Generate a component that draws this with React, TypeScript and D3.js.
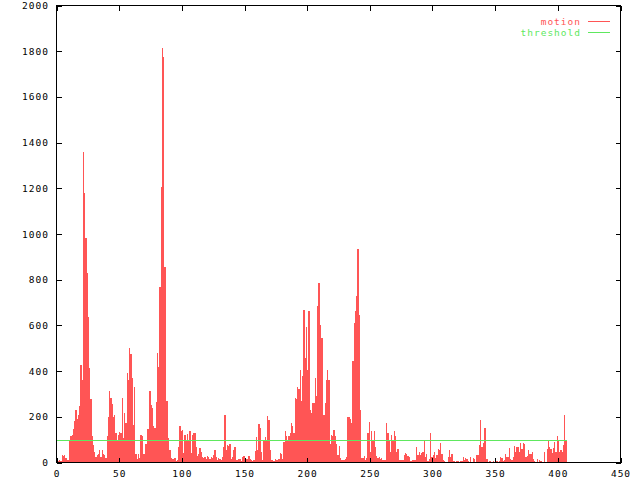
import React from 'react';
import * as d3 from 'd3';

const motion: number[] = [
  8, 5, 10, 8, 33, 30, 35, 20, 10, 12,
  92, 114, 121, 147, 182, 230, 190, 209, 248, 425,
  362, 1359, 1181, 982, 829, 635, 414, 277, 114, 77,
  48, 26, 33, 38, 55, 26, 55, 38, 33, 20,
  114, 201, 311, 284, 255, 200, 210, 128, 92, 121,
  133, 128, 284, 106, 216, 172, 391, 359, 500, 474,
  369, 165, 330, 38, 15, 38, 19, 121, 114, 38,
  38, 82, 147, 147, 311, 252, 238, 158, 153, 264,
  479, 416, 768, 1207, 1814, 1776, 857, 271, 267, 107,
  55, 19, 16, 15, 19, 7, 12, 70, 158, 140,
  143, 41, 121, 92, 125, 96, 139, 41, 121, 131,
  131, 70, 29, 38, 63, 45, 26, 18, 22, 15,
  29, 23, 16, 26, 20, 33, 55, 26, 12, 19,
  15, 12, 23, 70, 209, 53, 77, 74, 82, 15,
  23, 53, 66, 12, 12, 15, 15, 7, 23, 29,
  12, 16, 15, 29, 15, 12, 7, 9, 51, 112,
  53, 168, 150, 48, 12, 95, 111, 95, 204, 184,
  53, 9, 13, 7, 15, 12, 9, 15, 41, 38,
  15, 88, 136, 117, 99, 117, 131, 175, 158, 131,
  282, 277, 330, 321, 406, 267, 380, 668, 457, 592,
  406, 661, 230, 216, 260, 260, 369, 289, 686, 785,
  603, 544, 544, 206, 260, 362, 406, 362, 82, 121,
  117, 143, 117, 82, 34, 73, 19, 12, 12, 12,
  15, 26, 201, 201, 190, 175, 446, 610, 665, 727,
  934, 646, 228, 19, 19, 29, 9, 19, 128, 179,
  48, 136, 92, 136, 70, 29, 19, 22, 15, 19,
  12, 9, 9, 172, 131, 99, 48, 121, 99, 139,
  114, 48, 60, 12, 9, 12, 9, 34, 41, 38,
  29, 26, 7, 7, 12, 12, 12, 70, 34, 44,
  34, 41, 45, 99, 26, 38, 7, 15, 128, 26,
  34, 45, 19, 34, 60, 53, 85, 38, 12, 7,
  4, 4, 23, 53, 23, 38, 7, 5, 4, 6,
  5, 4, 6, 5, 26, 12, 19, 15, 7, 4,
  26, 4, 19, 15, 4, 34, 31, 77, 187, 70,
  85, 150, 150, 15, 4, 7, 5, 4, 6, 4,
  5, 7, 4, 5, 23, 19, 7, 12, 38, 26,
  26, 63, 15, 12, 26, 73, 48, 70, 67, 48,
  85, 58, 85, 82, 26, 29, 53, 36, 38, 48,
  15, 7, 4, 15, 4, 12, 7, 4, 4, 48,
  4, 60, 92, 70, 58, 41, 63, 88, 48, 118,
  99, 48, 55, 48, 77, 209, 96,
];

const thresholdValue = 100;
const xTickValues = [0, 50, 100, 150, 200, 250, 300, 350, 400, 450];
const yTickValues = [0, 200, 400, 600, 800, 1000, 1200, 1400, 1600, 1800, 2000];
const seriesNames = ['motion', 'threshold'];

export default function App() {
  const W = 640;
  const H = 480;
  const left = 56.5, right = 620.5, top = 5.5, bottom = 462.5;
  const x = d3.scaleLinear().domain([0, 450]).range([left, right]);
  const y = d3.scaleLinear().domain([0, 2000]).range([bottom, top]);

  const red = '#ff5555';
  const green = '#5ee85e';
  const font = "'DejaVu Sans Mono', monospace";
  const fs = 9.5;
  const ls = 1;
  const tick = 5;

  const thrLine = d3.line<[number, number]>()
    .x((d) => x(d[0]))
    .y((d) => Math.round(y(d[1])) + 0.5)([
      [0, thresholdValue],
      [motion.length, thresholdValue],
    ]);

  const colors = [red, green];

  return (
    <svg
      width={W}
      height={H}
      style={{ position: 'absolute', left: 0, top: 0, background: '#fff' }}
    >
      <rect x={0} y={0} width={W} height={H} fill="#fff" />
      <g shapeRendering="crispEdges">
        {motion.map((v, i) => (
          <rect
            key={i}
            x={x(i)}
            width={x(i + 1) - x(i)}
            y={y(v)}
            height={y(0) - y(v)}
            fill={red}
          />
        ))}
      </g>
      <path d={thrLine || ''} stroke={green} strokeWidth={1} fill="none" shapeRendering="crispEdges" />
      <g stroke="#000" strokeWidth={1} shapeRendering="crispEdges">
        {yTickValues.map((v) => (
          <g key={'yt' + v}>
            <line x1={left} x2={left + tick} y1={Math.round(y(v)) + 0.5} y2={Math.round(y(v)) + 0.5} />
            <line x1={right} x2={right - tick} y1={Math.round(y(v)) + 0.5} y2={Math.round(y(v)) + 0.5} />
          </g>
        ))}
        {xTickValues.map((v) => (
          <g key={'xt' + v}>
            <line x1={Math.round(x(v)) + 0.5} x2={Math.round(x(v)) + 0.5} y1={bottom} y2={bottom - tick} />
            <line x1={Math.round(x(v)) + 0.5} x2={Math.round(x(v)) + 0.5} y1={top} y2={top + tick} />
          </g>
        ))}
        <rect x={left} y={top} width={right - left} height={bottom - top} fill="none" />
      </g>
      <g fontFamily={font} fontSize={fs} letterSpacing={ls} fill="#000">
        {yTickValues.map((v) => (
          <text key={'yl' + v} x={48 + ls} y={y(v) + 3.5} textAnchor="end">
            {v}
          </text>
        ))}
        {xTickValues.map((v) => (
          <text key={'xl' + v} x={x(v) + ls / 2} y={477} textAnchor="middle">
            {v}
          </text>
        ))}
      </g>
      <g fontFamily={font} fontSize={fs} letterSpacing={ls}>
        {seriesNames.map((name, k) => (
          <g key={name}>
            <text x={580 + ls} y={25 + k * 11} textAnchor="end" fill={colors[k]}>
              {name}
            </text>
            <line
              x1={588}
              x2={610}
              y1={21.5 + k * 11}
              y2={21.5 + k * 11}
              stroke={colors[k]}
              strokeWidth={1}
              shapeRendering="crispEdges"
            />
          </g>
        ))}
      </g>
    </svg>
  );
}
